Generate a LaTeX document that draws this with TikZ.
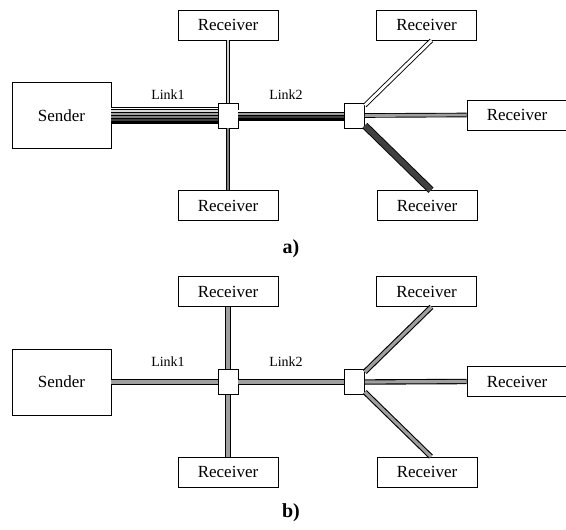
\documentclass[tikz,border=0pt]{standalone}
\usepackage{fontspec}
\setmainfont{Liberation Serif}
\begin{document}
\begin{tikzpicture}[x=1pt,y=-1pt,
  box/.style={draw,fill=white,line width=0.6pt,inner sep=0pt,font=\fontsize{17}{20}\selectfont},
  host/.style={box,minimum width=100pt,minimum height=30pt},
  router/.style={draw,fill=white,line width=0.6pt,minimum width=20pt,minimum height=25pt,inner sep=0pt},
  lbl/.style={font=\fontsize{14}{16}\selectfont},
  sublabel/.style={font=\bfseries\fontsize{20}{24}\selectfont},
  strand/.style={draw=black,line width=0.6pt,double=#1,double distance=1.7pt},
  branch/.style={draw=black,line width=0.9pt,double=#1,double distance=2.8pt},
  flow/.style={draw=black,line width=1.1pt,double=gray!75,double distance=3.2pt}]
\useasboundingbox (0,0) rectangle (566,530);
% a) one stream per receiver
\node[box,minimum width=99pt,minimum height=66pt] (sa) at (61.5,115.5) {Sender};
\node[router] (r1a) at (228,115.5) {};
\node[router] (r2a) at (354.5,115.5) {};
\node[host] (t1a) at (228,25) {Receiver};
\node[host] (b1a) at (228,205.5) {Receiver};
\node[host] (t2a) at (426.5,25) {Receiver};
\node[host] (ea) at (517,115) {Receiver};
\node[host] (b2a) at (427,205.5) {Receiver};
\node[lbl] (l1a) at (168,95) {Link1};
\node[lbl] (l2a) at (286,95) {Link2};
\foreach \c/\d in {white/7,gray!30/4.2,gray!75/1.4,gray/-1.4,darkgray/-4.2,black/-7}
  \draw[strand=\c] ([yshift=\d pt]sa.east) -- ([yshift=\d pt]r1a.west);
\foreach \c/\d in {white/4.2,gray!75/1.4,darkgray/-1.4,black/-4.2}
  \draw[strand=\c] ([yshift=\d pt]r1a.east) -- ([yshift=\d pt]r2a.west);
\draw[branch=gray!35] (t1a.south) -- (r1a.north);
\draw[branch=gray] (r1a.south) -- (b1a.north);
\draw[branch=white] (r2a) -- ([xshift=5pt]t2a.south);
\draw[branch=gray!75] (r2a.east) -- (ea.west);
\draw[draw=black,line width=0.9pt,double=black!75,double distance=5.5pt] (r2a) -- ([xshift=4pt]b2a.north);
\node[sublabel] (capa) at (291,249) {a)};
% b) one shared stream
\node[box,minimum width=99pt,minimum height=66pt] (sb) at (61.5,382) {Sender};
\node[router] (r1b) at (228,382) {};
\node[router] (r2b) at (354.5,382) {};
\node[host] (t1b) at (228,291.5) {Receiver};
\node[host] (b1b) at (228,472) {Receiver};
\node[host] (t2b) at (426.5,291.5) {Receiver};
\node[host] (eb) at (517,381.5) {Receiver};
\node[host] (b2b) at (427,472) {Receiver};
\node[lbl] (l1b) at (168,361.5) {Link1};
\node[lbl] (l2b) at (286,361.5) {Link2};
\draw[flow] (sb.east) -- (r1b.west);
\draw[flow] (r1b.east) -- (r2b.west);
\draw[flow] (t1b.south) -- (r1b.north);
\draw[flow] (r1b.south) -- (b1b.north);
\draw[flow] (r2b) -- ([xshift=5pt]t2b.south);
\draw[flow] (r2b.east) -- (eb.west);
\draw[flow] (r2b) -- ([xshift=4pt]b2b.north);
\node[sublabel] (capb) at (291,513) {b)};
\end{tikzpicture}
\end{document}
